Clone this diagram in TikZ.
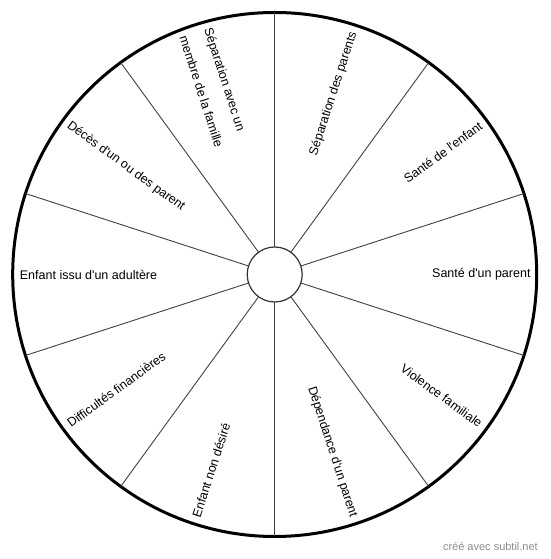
\documentclass[tikz,border=0pt]{standalone}
\usepackage{fontspec}
\setmainfont{Liberation Sans}[Ligatures=TeXOff]
\begin{document}
\begin{tikzpicture}[x=1pt,y=1pt,
  divider/.style={line width=0.9pt, draw=black!75},
  seglabel/.style={inner sep=0pt, font=\fontsize{12.5}{26}\selectfont, text=black},
  rim/.style={line width=3pt, draw=black},
  hubstyle/.style={circle, draw=black!80, line width=1.2pt, fill=white, minimum size=55pt, inner sep=0pt},
  footer/.style={inner sep=0pt, font=\fontsize{11}{13}\selectfont, text=black!45}
]
\useasboundingbox (0,0) rectangle (550,559);
\coordinate (C) at (274.7,284.5);
\draw[rim] (C) circle (262);
\foreach \a in {90,54,18,-18,-54,-90,-126,-162,-198,-234}
  \draw[divider] ([shift={(\a:27.5)}]C) -- ([shift={(\a:262)}]C);
\node[hubstyle] (hub) at (C) {};
% right half: text reads outward
\node[seglabel, rotate=72, anchor=east] (l1) at ([shift={(72:255)}]C) {Séparation des parents};
\node[seglabel, rotate=36, anchor=east] (l2) at ([shift={(36:255)}]C) {Santé de l'enfant};
\node[seglabel, rotate=0, anchor=east] (l3) at ([shift={(0:256)}]C) {Santé d'un parent};
\node[seglabel, rotate=-36, anchor=east] (l4) at ([shift={(-36:255)}]C) {Violence familiale};
\node[seglabel, rotate=-72, anchor=east] (l5) at ([shift={(-72:255)}]C) {Dépendance d'un parent};
% left half: text reads toward the centre
\node[seglabel, rotate=72, anchor=west] (l6) at ([shift={(-108:255)}]C) {Enfant non désiré};
\node[seglabel, rotate=36, anchor=west] (l7) at ([shift={(-144:255)}]C) {Difficultés financières};
\node[seglabel, rotate=0, anchor=west] (l8) at ([shift={(180:255)}]C) {Enfant issu d'un adultère};
\node[seglabel, rotate=-36, anchor=west] (l9) at ([shift={(144:255)}]C) {Décès d'un ou des parent};
\node[seglabel, rotate=-72, anchor=west, align=left] (l10) at ([shift={(108:255)}]C) {Séparation avec un\\membre de la famille};
\node[footer, anchor=east] (foot) at (538,12.3) {créé avec subtil.net};
\end{tikzpicture}
\end{document}
